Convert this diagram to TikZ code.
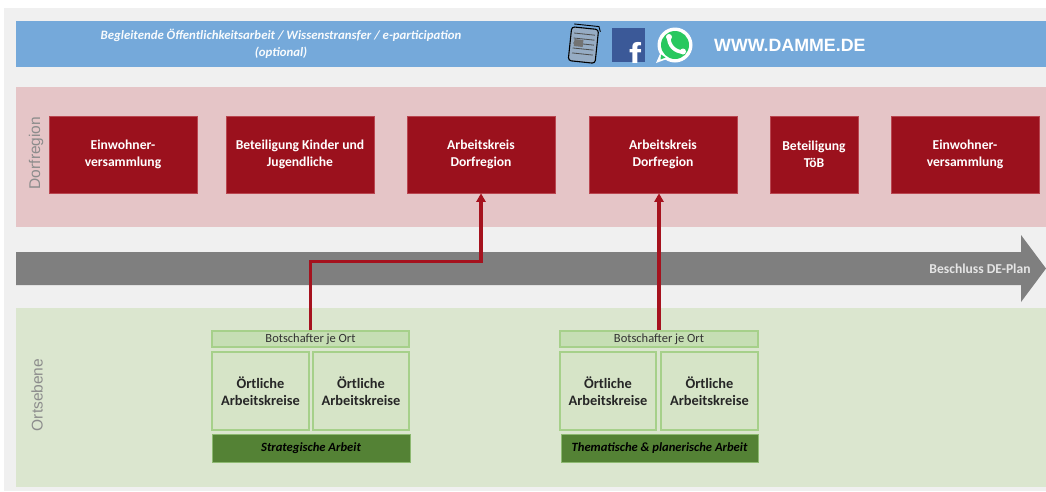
\documentclass[tikz,border=0pt]{standalone}
\usepackage{fontspec}
\setmainfont{Carlito}
\newfontfamily\arialf{Liberation Sans}
\usetikzlibrary{arrows.meta,calc}
\definecolor{bgGrey}{RGB}{240,240,240}
\definecolor{barBlue}{RGB}{117,169,218}
\definecolor{bandPink}{RGB}{229,197,199}
\definecolor{bandGreen}{RGB}{219,230,207}
\definecolor{boxRed}{RGB}{155,17,29}
\definecolor{boxRedEdge}{RGB}{185,70,80}
\definecolor{connRed}{RGB}{165,18,30}
\definecolor{arrowGrey}{RGB}{127,127,127}
\definecolor{labelGrey}{RGB}{140,140,140}
\definecolor{greenEdge}{RGB}{166,208,138}
\definecolor{botFill}{RGB}{198,222,180}
\definecolor{okFill}{RGB}{214,228,199}
\definecolor{darkGreen}{RGB}{84,130,53}
\definecolor{fbBlue}{RGB}{59,89,152}
\definecolor{waGreen}{RGB}{40,200,95}
\definecolor{paperFill}{RGB}{150,172,196}
\begin{document}
\begin{tikzpicture}[x=1pt,y=-1pt,
  redbox/.style={fill=boxRed, draw=boxRedEdge, line width=0.6pt, text=white,
    font=\fontsize{13.6}{17}\selectfont\bfseries, align=center,
    minimum height=77, inner sep=0pt},
  botbox/.style={fill=botFill, draw=greenEdge, line width=1.3pt, text=black!80,
    font=\fontsize{12.5}{13}\selectfont, minimum height=16, inner sep=0pt},
  okbox/.style={fill=okFill, draw=greenEdge, line width=1.3pt, text=black!85,
    font=\fontsize{14.4}{17}\selectfont\bfseries, align=center,
    minimum height=78, inner sep=0pt},
  workbox/.style={fill=darkGreen, draw=greenEdge!70!darkGreen, line width=1pt, text=black,
    font=\fontsize{12.6}{14}\selectfont\bfseries\itshape, minimum height=28, inner sep=0pt},
  sidelabel/.style={text=labelGrey, font=\arialf\fontsize{15.5}{18}\selectfont, rotate=90},
  conn/.style={draw=connRed, line width=3.1pt, -{Triangle[width=9pt,length=8.5pt]}}
]
\useasboundingbox (0,0) rectangle (1046,491);
\fill[white] (0,0) rectangle (1046,491);
\fill[bgGrey] (4,8) rectangle (1046,491);

% bands
\fill[barBlue] (16,21) rectangle (1046,67);
\fill[bandPink] (16,87) rectangle (1046,227);
\fill[bandGreen] (16,308) rectangle (1046,487);

% header text
\node[text=white!95!barBlue, font=\fontsize{12.8}{17}\selectfont\bfseries\itshape, align=center]
  (head) at (281,44) {Begleitende Öffentlichkeitsarbeit / Wissenstransfer / e-participation\\(optional)};

% newspaper icon
\begin{scope}[rotate around={-6:(583,44)}]
  \draw[black, line width=1.1pt, fill=paperFill, rounded corners=3pt] (570,28) rectangle (597,62);
  \draw[black, line width=0.9pt] (572,25) -- (597,25) -- (599,30);
  \foreach \yy in {34,39,44,49,54} {\draw[black!70, line width=0.8pt] (573,\yy) -- (594,\yy);}
  \fill[black!55] (574,40) rectangle (583,47);
\end{scope}

% facebook icon
\fill[fbBlue] (612,28) rectangle (645,62);
\begin{scope}
  \clip (612,28) rectangle (645,62);
  \node[text=white, font=\arialf\bfseries\fontsize{36}{36}\selectfont, anchor=base] (fb) at (635,68) {f};
\end{scope}

% whatsapp icon
\fill[white] (660,54) -- (656,63) -- (667,59) -- cycle;
\fill[white] (675,45) circle (17.5);
\fill[waGreen] (675,45) circle (14);
\fill[waGreen] (661,54.5) -- (660.5,59.5) -- (665.5,57.5) -- cycle;
\draw[white, line width=3.6pt, line cap=round] (669,37) .. controls (668,45) and (675,52) .. (683,52);
\fill[white] (669,37) circle (3);
\fill[white] (683,51.5) circle (3);

\node[text=white, font=\arialf\bfseries\fontsize{17.8}{20}\selectfont, anchor=west, inner sep=0pt]
  (www) at (714,45) {WWW.DAMME.DE};

% side labels
\node[sidelabel] (lDorf) at (36,153) {Dorfregion};
\node[sidelabel] (lOrt) at (37,395) {Ortsebene};

% red boxes
\node[redbox, minimum width=148] (ew1) at (123,154.5) {Einwohner-\\versammlung};
\node[redbox, minimum width=148] (kij) at (300,154.5) {Beteiligung Kinder und\\Jugendliche};
\node[redbox, minimum width=148] (ak1) at (481,154.5) {Arbeitskreis\\Dorfregion};
\node[redbox, minimum width=148] (ak2) at (663,154.5) {Arbeitskreis\\Dorfregion};
\node[redbox, minimum width=88] (toeb) at (814,154.5) {Beteiligung\\TöB};
\node[redbox, minimum width=148] (ew2) at (965,154.5) {Einwohner-\\versammlung};

% grey timeline arrow
\fill[arrowGrey] (16,252) -- (1021,252) -- (1021,235) -- (1046,268.5) -- (1021,302) -- (1021,285) -- (16,285) -- cycle;
\node[text=white!90!black, font=\fontsize{13.6}{15}\selectfont\bfseries] (plan) at (980,269) {Beschluss DE-Plan};

% green groups left
\node[botbox, minimum width=197] (bot1) at (310.5,339) {Botschafter je Ort};
\node[okbox, minimum width=97] (ok1a) at (260.5,391) {Örtliche\\Arbeitskreise};
\node[okbox, minimum width=96] (ok1b) at (361,391) {Örtliche\\Arbeitskreise};
\node[workbox, minimum width=198] (str1) at (311,448) {Strategische Arbeit};

% green groups right
\node[botbox, minimum width=198] (bot2) at (659,339) {Botschafter je Ort};
\node[okbox, minimum width=96] (ok2a) at (608,391) {Örtliche\\Arbeitskreise};
\node[okbox, minimum width=97] (ok2b) at (709.5,391) {Örtliche\\Arbeitskreise};
\node[workbox, minimum width=197] (thm2) at (659.5,448.5) {Thematische \& planerische Arbeit};

% connectors
\draw[conn] (bot1.north) -- ++(0,-69) -| (ak1.south);
\draw[conn] (bot2.north) -- (bot2.north |- ak2.south);
\end{tikzpicture}
\end{document}
